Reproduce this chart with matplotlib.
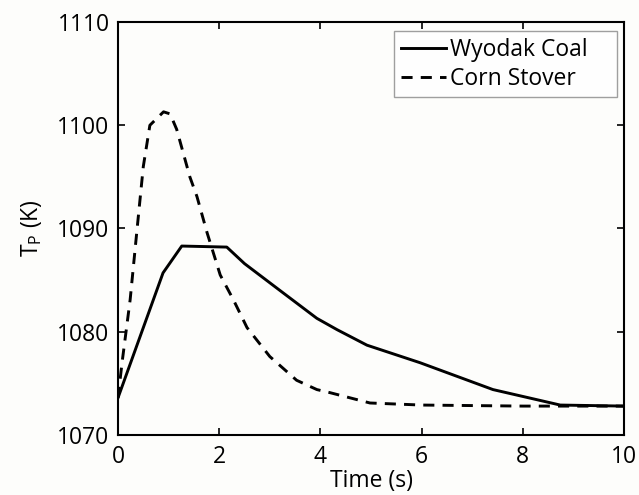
import matplotlib
matplotlib.use("Agg")
import matplotlib.pyplot as plt

plt.rcParams['font.family'] = ['Open Sans', 'DejaVu Sans']
plt.rcParams['mathtext.default'] = 'regular'

# Wyodak Coal
t_coal = [0.0, 0.89, 1.26, 2.15, 2.5, 3.2, 3.93, 4.33, 4.92, 5.97, 7.41, 8.74, 10.0]
T_coal = [1073.6, 1085.7, 1088.3, 1088.2, 1086.6, 1084.0, 1081.3, 1080.2, 1078.7, 1077.0, 1074.4, 1072.9, 1072.8]

# Corn Stover
t_corn = [0.0, 0.08, 0.24, 0.37, 0.5, 0.63, 0.9, 1.03, 1.16, 1.42, 1.56, 1.76, 2.02, 2.28, 2.55, 3.0, 3.53, 3.93, 4.19, 4.98, 6.0, 8.0, 10.0]
T_corn = [1073.6, 1077.0, 1083.1, 1089.6, 1096.0, 1100.0, 1101.3, 1101.1, 1099.6, 1095.0, 1093.1, 1089.6, 1085.5, 1083.1, 1080.4, 1077.6, 1075.3, 1074.4, 1074.1, 1073.1, 1072.9, 1072.8, 1072.8]

xticks = [0, 2, 4, 6, 8, 10]
yticks = [1070, 1080, 1090, 1100, 1110]

fig = plt.figure(figsize=(6.39, 4.95), dpi=100, facecolor='#fdfdfb')
ax = fig.add_axes([118/639, 1 - 435/495, (624-118)/639, (435-22)/495])
ax.set_facecolor('#fdfdfb')

ax.plot(t_coal, T_coal, color='black', lw=2.1, label='Wyodak Coal')
ax.plot(t_corn, T_corn, color='black', lw=2.1, ls=(0, (3.8, 2.8)), label='Corn Stover')

ax.set_xlim(0, 10)
ax.set_ylim(1070, 1110)
ax.set_xticks(xticks)
ax.set_yticks(yticks)
ax.tick_params(direction='in', top=True, right=True, labelsize=16.5, length=5, width=1.2)
ax.tick_params(axis='x', pad=7)
ax.tick_params(axis='y', pad=6)
for s in ax.spines.values():
    s.set_linewidth(1.5)

ax.set_xlabel('Time (s)', fontsize=16.5, labelpad=0)
ax.set_ylabel(r'T$_{P}$ (K)', fontsize=16.5, labelpad=10)

leg = ax.legend(loc='upper left', bbox_to_anchor=(0.545, 0.0, 0.441, 0.978), mode='expand',
                borderaxespad=0, fontsize=16.5, frameon=True, fancybox=False,
                edgecolor='#888888', handlelength=2.0, handletextpad=0.15,
                borderpad=0.3, labelspacing=0.2)
leg.get_frame().set_linewidth(1.0)

fig.savefig('out.png', dpi=100, facecolor=fig.get_facecolor())
